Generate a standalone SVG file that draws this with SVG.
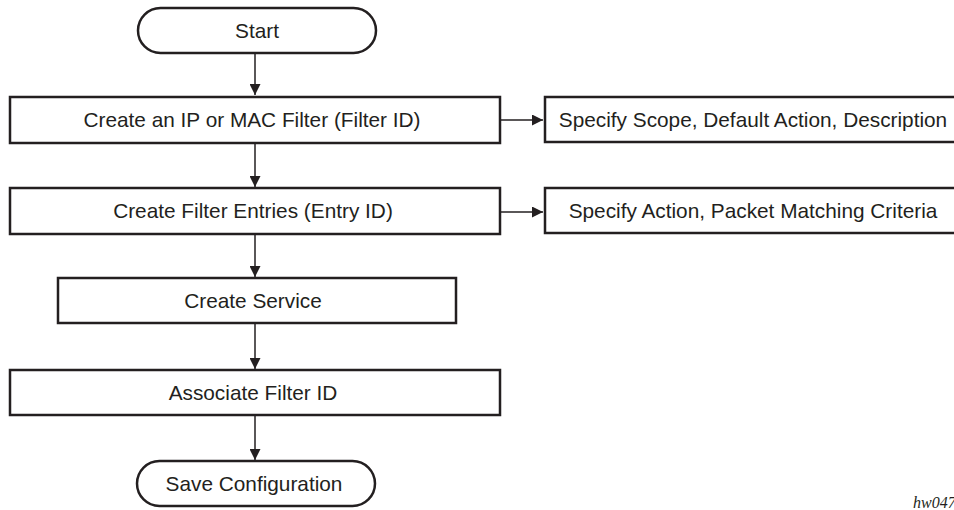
<svg xmlns="http://www.w3.org/2000/svg" width="954" height="510" viewBox="0 0 954 510">
<style>
.box{fill:#fff;stroke:#231f20;stroke-width:2.5}
.t{font-family:"Liberation Sans",Arial,sans-serif;font-size:20.8px;fill:#231f20;text-anchor:middle}
.c{stroke:#231f20;stroke-width:1.5;fill:none}
</style>
<defs>
<marker id="ah" viewBox="0 0 10 10" refX="10" refY="5" markerWidth="11" markerHeight="11" markerUnits="userSpaceOnUse" orient="auto">
<path d="M0,0 L10,5 L0,10 Z" fill="#231f20"/>
</marker>
</defs>
<rect width="954" height="510" fill="#fff"/>
<g id="connectors">
<line class="c" x1="255" y1="54" x2="255" y2="95" marker-end="url(#ah)"/>
<line class="c" x1="255" y1="144" x2="255" y2="187" marker-end="url(#ah)"/>
<line class="c" x1="255" y1="235" x2="255" y2="277" marker-end="url(#ah)"/>
<line class="c" x1="255" y1="324" x2="255" y2="369" marker-end="url(#ah)"/>
<line class="c" x1="255" y1="416" x2="255" y2="460" marker-end="url(#ah)"/>
<line class="c" x1="500" y1="120" x2="543" y2="120" marker-end="url(#ah)"/>
<line class="c" x1="500" y1="212" x2="543" y2="212" marker-end="url(#ah)"/>
</g>
<g id="start">
<rect class="box" x="138" y="8" width="238" height="45" rx="22.5"/>
<text class="t" x="257" y="38">Start</text>
</g>
<g id="create-filter">
<rect class="box" x="10" y="97" width="490" height="46"/>
<text class="t" x="252" y="127">Create an IP or MAC Filter (Filter ID)</text>
</g>
<g id="specify-scope">
<rect class="box" x="545" y="97" width="420" height="45"/>
<text class="t" x="753" y="127">Specify Scope, Default Action, Description</text>
</g>
<g id="create-entries">
<rect class="box" x="10" y="188" width="490" height="46"/>
<text class="t" x="253" y="218">Create Filter Entries (Entry ID)</text>
</g>
<g id="specify-action">
<rect class="box" x="545" y="188" width="420" height="45"/>
<text class="t" x="753" y="218">Specify Action, Packet Matching Criteria</text>
</g>
<g id="create-service">
<rect class="box" x="58" y="278" width="398" height="45"/>
<text class="t" x="253" y="308">Create Service</text>
</g>
<g id="associate">
<rect class="box" x="10" y="370" width="490" height="45"/>
<text class="t" x="253" y="400">Associate Filter ID</text>
</g>
<g id="save">
<rect class="box" x="137" y="461" width="238" height="45" rx="22.5"/>
<text class="t" x="254" y="491">Save Configuration</text>
</g>
<text x="913" y="508" font-family="'Liberation Serif','Times New Roman',serif" font-style="italic" font-size="16" fill="#231f20">hw047</text>
</svg>
